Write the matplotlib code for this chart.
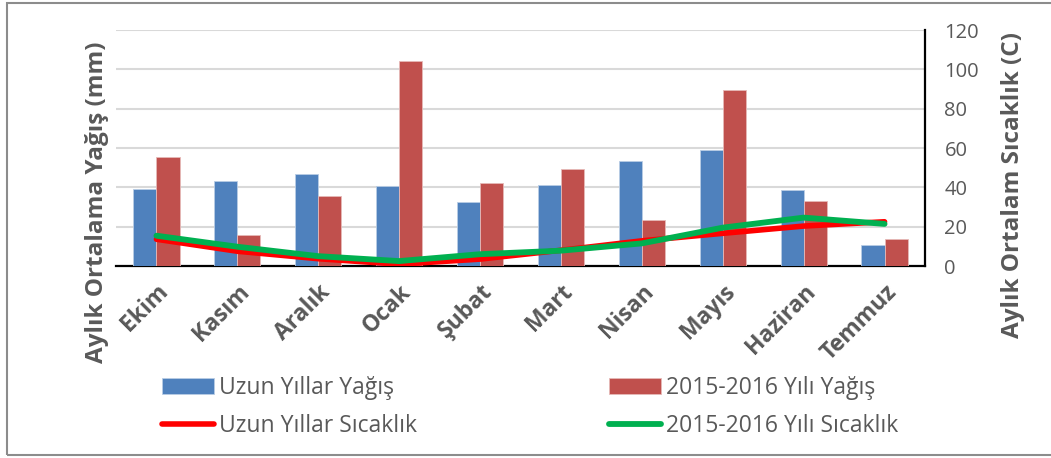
import matplotlib
matplotlib.use("Agg")
import matplotlib.pyplot as plt
import numpy as np
from matplotlib.patches import Rectangle

# months (Oct -> Jul)
months = ["Ekim", "Kasım", "Aralık", "Ocak", "Şubat", "Mart",
          "Nisan", "Mayıs", "Haziran", "Temmuz"]

# precipitation (mm)
rain_long = [39.0, 43.2, 47.0, 40.8, 32.7, 41.2, 53.2, 59.0, 38.8, 10.8]
rain_1516 = [55.6, 15.8, 35.4, 104.0, 42.4, 49.2, 23.2, 89.5, 32.9, 13.6]

# temperature (C)
temp_long = [13.6, 7.5, 3.7, 0.9, 3.5, 8.0, 12.8, 16.6, 20.3, 22.5]
temp_1516 = [15.4, 9.8, 5.0, 2.5, 6.0, 7.8, 11.5, 19.5, 24.6, 21.4]

yticks = [0, 20, 40, 60, 80, 100, 120]

gray = "#595959"
plt.rcParams["font.family"] = ["Open Sans", "DejaVu Sans"]

fig = plt.figure(figsize=(10.51, 4.58), dpi=100)
ax = fig.add_axes([116 / 1051, 1 - 266 / 458, (925 - 116) / 1051, (266 - 30) / 458])
ax2 = ax.twinx()

x = np.arange(len(months))
w = 0.285
b1 = ax.bar(x - w / 2, rain_long, w, color="#4F81BD", edgecolor="#B9CDE5",
            linewidth=0.6, label="Uzun Yıllar Yağış", zorder=3)
b2 = ax.bar(x + w / 2, rain_1516, w, color="#C0504D", edgecolor="#E6B9B8",
            linewidth=0.6, label="2015-2016 Yılı Yağış", zorder=3)

l1, = ax2.plot(x, temp_long, color="#FF0000", lw=4, solid_capstyle="round",
               solid_joinstyle="round", label="Uzun Yıllar Sıcaklık")
l2, = ax2.plot(x, temp_1516, color="#00B050", lw=4.2, solid_capstyle="round",
               solid_joinstyle="round", label="2015-2016 Yılı Sıcaklık")

for a in (ax, ax2):
    a.set_ylim(0, 120)
    a.set_xlim(-0.5, len(months) - 0.5)
    for s in ("top", "left"):
        a.spines[s].set_visible(False)

ax.set_yticks(yticks)
ax.yaxis.grid(True, color="#D9D9D9", lw=1.5, zorder=0)
ax.set_axisbelow(True)
ax.tick_params(axis="y", left=False, labelleft=False)
ax.spines["right"].set_visible(False)
ax.spines["bottom"].set_linewidth(1.6)
ax.spines["bottom"].set_color("black")
ax.set_xticks(x)
ax.set_xticklabels(months, rotation=45, ha="right", rotation_mode="anchor",
                   fontsize=16.5, fontweight="bold", color=gray)
ax.tick_params(axis="x", length=0, pad=10)

ax2.spines["bottom"].set_visible(False)
ax2.spines["right"].set_linewidth(1.6)
ax2.spines["right"].set_color("black")
ax2.set_yticks(yticks)
ax2.tick_params(axis="y", length=0, pad=14, labelsize=14.5, labelcolor=gray)

fig.text(97 / 1051, 1 - 202 / 458, "Aylık Ortalama Yağış (mm)", rotation=90,
         ha="center", va="center", fontsize=17.5, fontweight="bold", color=gray)
fig.text(1013 / 1051, 1 - 185 / 458, "Aylık Ortalam Sıcaklık (C)", rotation=90,
         ha="center", va="center", fontsize=17.5, fontweight="bold", color=gray)

leg = fig.legend([b1, l1, b2, l2],
                 [b1.get_label(), l1.get_label(), b2.get_label(), l2.get_label()],
                 ncol=2, loc="center", bbox_to_anchor=(530 / 1051, 1 - 407 / 458),
                 frameon=False, fontsize=16.5, handlelength=2.27, handletextpad=0.2,
                 columnspacing=8.4, labelspacing=0.6, labelcolor=gray)

fig.patches.append(Rectangle((7 / 1051, 3 / 458), 1.1, 452 / 458, transform=fig.transFigure,
                             fill=False, edgecolor="#8C8C8C", lw=1.5))

fig.savefig("out.png", dpi=100)
